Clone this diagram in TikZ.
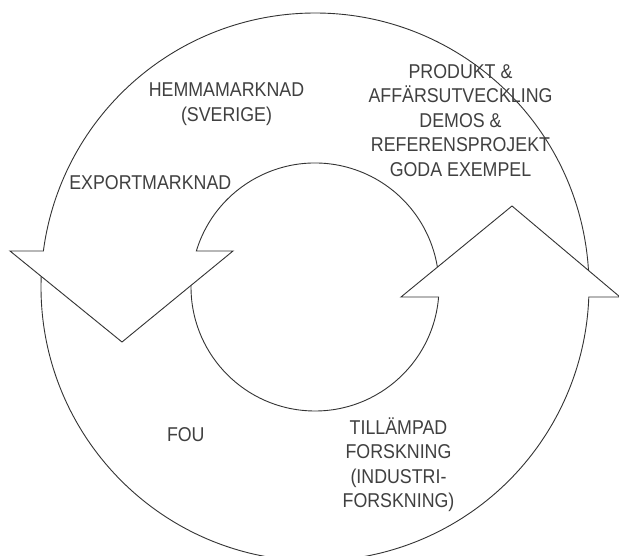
\documentclass[tikz,border=0pt]{standalone}
\usepackage{fontspec}
\newfontfamily\labelfont{Liberation Sans}[FakeStretch=0.89]
\tikzset{
  ring/.style={draw=black!80, line width=0.9pt, line join=miter},
  lbl/.style={anchor=north, inner sep=0pt, align=center, text=black!75,
    font=\labelfont\fontsize{20}{24.4}\selectfont}
}
\newcommand{\capstrut}{\rule{0pt}{20pt}}
\begin{document}
\begin{tikzpicture}[x=1pt,y=1pt]
\path[fill=white,use as bounding box] (0,0) rectangle (619,-556);
\begin{scope}[shift={(315,-287)}]
  % upper band, arrow pointing down on the left
  \draw[ring] (3.46:274pt) arc[start angle=3.46, end angle=172.45, radius=274pt]
    -- (-305,36) -- (-193,-55) -- (-82,36)
    -- (163.12:124pt) arc[start angle=163.12, end angle=9.21, radius=124pt];
  % lower band, arrow pointing up on the right
  \draw[ring] (177.77:274pt) arc[start angle=177.77, end angle=357.91, radius=274pt]
    -- (305,-10) -- (197,81) -- (86,-10)
    -- (355.37:124pt) arc[start angle=355.37, end angle=179.27, radius=124pt];
\end{scope}
\node[lbl] (hemma) at (226.5,-76.65) {\capstrut HEMMAMARKNAD\\(SVERIGE)};
\node[lbl] (produkt) at (460.5,-58.35) {\capstrut PRODUKT \&\\AFFÄRSUTVECKLING\\DEMOS \&\\REFERENSPROJEKT\\GODA EXEMPEL};
\node[lbl] (export) at (150.3,-169.35) {\capstrut EXPORTMARKNAD};
\node[lbl] (fou) at (185.8,-421.65) {\capstrut FOU};
\node[lbl] (tillampad) at (398.5,-414.15) {\capstrut TILLÄMPAD\\FORSKNING\\(INDUSTRI-\\FORSKNING)};
\end{tikzpicture}
\end{document}
